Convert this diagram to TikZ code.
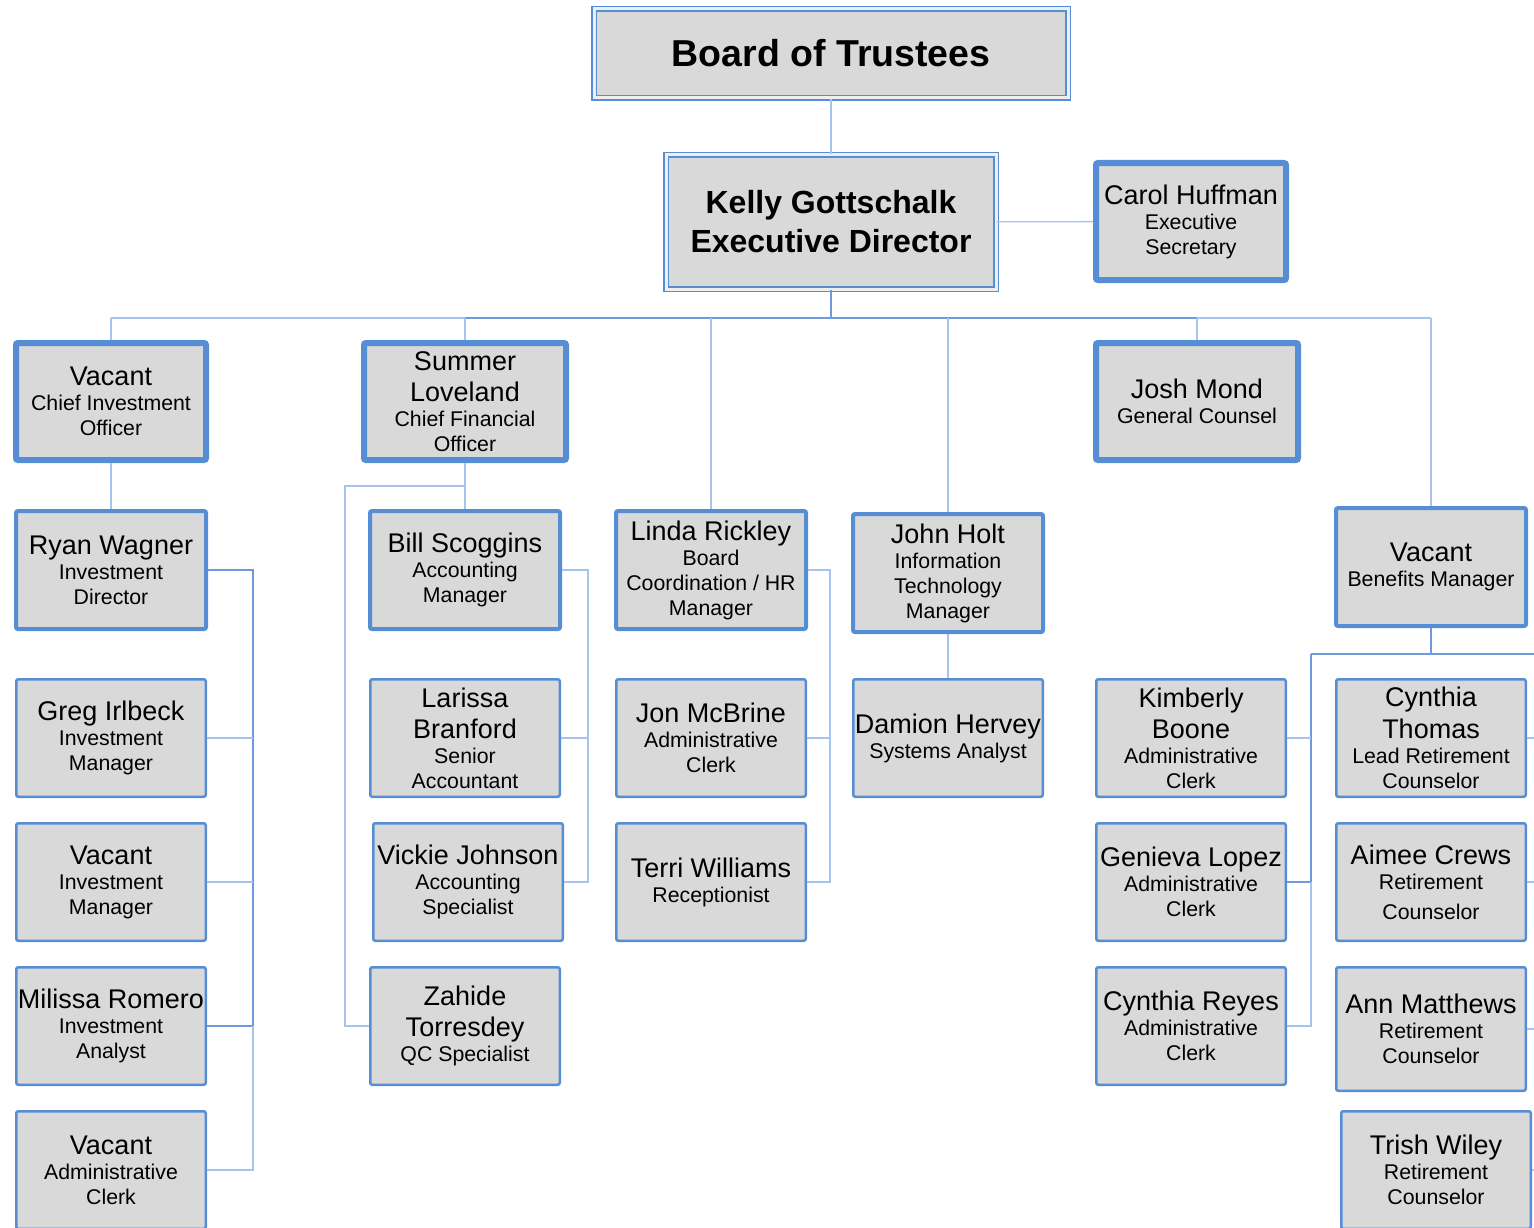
\documentclass[tikz,border=0pt]{standalone}
\usepackage{fontspec}
\setmainfont{Liberation Sans}
\usetikzlibrary{positioning}

\definecolor{boxblue}{RGB}{85,142,213}
\definecolor{boxgray}{RGB}{217,217,217}
\definecolor{linkdark}{RGB}{108,154,220}
\definecolor{linklight}{RGB}{166,196,238}

\newcommand{\nameline}[1]{{\fontsize{27}{31}\selectfont #1}}

\tikzset{
  card/.style={draw=boxblue, fill=boxgray, rounded corners=2pt, align=center, inner sep=0pt,
    font=\fontsize{21.3}{25}\selectfont},
  lowcard/.style={card, line width=2.5pt, minimum width=189.5pt, minimum height=117.5pt},
  midcard/.style={card, line width=4pt, minimum width=190pt, minimum height=118pt},
  topcard/.style={card, line width=6pt, minimum height=117pt},
  headcard/.style={draw=boxblue, line width=1.5pt, double=boxgray!45!white, double distance=3pt,
    fill=boxgray, align=center},
  link/.style={draw=linklight, line width=1.3pt},
  trunk/.style={draw=linkdark, line width=1.6pt},
}

\begin{document}
\begin{tikzpicture}[x=1pt, y=-1pt]
\useasboundingbox (0,0) rectangle (1534,1228);

% Board and director
\node[headcard, minimum width=474pt, minimum height=89pt, font=\bfseries\fontsize{37.5}{44}\selectfont] (bot) at (831,53.5) {Board of Trustees};
\node[headcard, minimum width=330pt, minimum height=134pt, font=\bfseries\fontsize{32}{39}\selectfont] (ed) at (831,222) {Kelly Gottschalk\\Executive Director};
\node[topcard, minimum width=190pt] (sec) at (1191,221.5) {\nameline{Carol Huffman}\\Executive\\Secretary};

% Senior staff
\node[topcard, minimum width=190pt] (cio) at (111,401.5) {\nameline{Vacant}\\Chief Investment\\Officer};
\node[topcard, minimum width=202pt] (cfo) at (465,401.5) {\nameline{Summer}\\[6pt]\nameline{Loveland}\\Chief Financial\\Officer};
\node[topcard, minimum width=202pt] (gc) at (1197,401.5) {\nameline{Josh Mond}\\General Counsel};

% Managers
\node[midcard] (ryan) at (111,570) {\nameline{Ryan Wagner}\\Investment\\Director};
\node[midcard] (bill) at (465,570) {\nameline{Bill Scoggins}\\Accounting\\Manager};
\node[midcard] (linda) at (711,570) {\nameline{Linda Rickley}\\Board\\Coordination / HR\\Manager};
\node[midcard] (holt) at (948,573) {\nameline{John Holt}\\Information\\Technology\\Manager};
\node[midcard] (ben) at (1431,567) {\nameline{Vacant}\\Benefits Manager};

% Investment staff
\node[lowcard] (greg) at (111,738) {\nameline{Greg Irlbeck}\\Investment\\Manager};
\node[lowcard] (vacim) at (111,882) {\nameline{Vacant}\\Investment\\Manager};
\node[lowcard] (milissa) at (111,1026) {\nameline{Milissa Romero}\\Investment\\Analyst};
\node[lowcard] (vacadm) at (111,1170) {\nameline{Vacant}\\Administrative\\Clerk};

% Finance staff
\node[lowcard] (larissa) at (465,738) {\nameline{Larissa}\\[6pt]\nameline{Branford}\\Senior\\Accountant};
\node[lowcard] (vickie) at (468,882) {\nameline{Vickie Johnson}\\Accounting\\Specialist};
\node[lowcard] (zahide) at (465,1026) {\nameline{Zahide}\\[6pt]\nameline{Torresdey}\\QC Specialist};

% Board coordination staff
\node[lowcard] (jon) at (711,738) {\nameline{Jon McBrine}\\Administrative\\Clerk};
\node[lowcard] (terri) at (711,882) {\nameline{Terri Williams}\\Receptionist};

% IT staff
\node[lowcard] (damion) at (948,738) {\nameline{Damion Hervey}\\Systems Analyst};

% Benefits staff
\node[lowcard] (kim) at (1191,738) {\nameline{Kimberly}\\[6pt]\nameline{Boone}\\Administrative\\Clerk};
\node[lowcard] (genieva) at (1191,882) {\nameline{Genieva Lopez}\\Administrative\\Clerk};
\node[lowcard] (reyes) at (1191,1026) {\nameline{Cynthia Reyes}\\Administrative\\Clerk};
\node[lowcard] (cthomas) at (1431,738) {\nameline{Cynthia}\\[6pt]\nameline{Thomas}\\Lead Retirement\\Counselor};
\node[lowcard] (aimee) at (1431,882) {\nameline{Aimee Crews}\\Retirement\\[5pt]Counselor};
\node[lowcard, minimum height=123.5pt] (ann) at (1431,1029) {\nameline{Ann Matthews}\\Retirement\\Counselor};
\node[lowcard] (trish) at (1436,1170) {\nameline{Trish Wiley}\\Retirement\\Counselor};

% Top links
\draw[link] (bot) -- (ed);
\draw[link] (ed) -- (sec);
\coordinate (busl) at (111,318);
\coordinate (busr) at (1431,318);
\draw[trunk] (ed.south) -- (ed.south |- busl);
\draw[link] (busl) -- (busr);
\draw[trunk] (cfo.north |- busl) -- (gc.north |- busl);
\foreach \n in {cio,cfo,linda,holt,gc,ben}
  \draw[link] (\n.north) -- (\n.north |- busl);

% Investment links
\draw[link] (cio) -- (ryan);
\coordinate (ryanx) at (253,570);
\draw[trunk] (ryan.east) -- (ryanx) |- (milissa.east);
\draw[link] (milissa.east -| ryanx) |- (vacadm.east);
\foreach \n in {greg,vacim}
  \draw[link] (\n.east) -- (\n.east -| ryanx);

% Finance links
\coordinate (cfoj) at (465,486);
\coordinate (cfox) at (345,486);
\draw[link] (cfo) -- (bill);
\draw[link] (cfoj) -- (cfox) |- (zahide.west);
\coordinate (billx) at (588,570);
\draw[link] (bill.east) -- (billx) |- (vickie.east);
\draw[link] (larissa.east) -- (larissa.east -| billx);

% Board coordination links
\coordinate (lindax) at (830,570);
\draw[link] (linda.east) -- (lindax) |- (terri.east);
\draw[link] (jon.east) -- (jon.east -| lindax);

% IT links
\draw[link] (holt) -- (damion);

% Benefits links
\coordinate (benj) at (1431,654);
\coordinate (benl) at (1311,654);
\coordinate (benr) at (1541,654);
\draw[trunk] (ben.south) -- (benj);
\draw[trunk] (benl) -- (benr);
\draw[trunk] (benl) |- (genieva.east);
\draw[link] (genieva.east -| benl) |- (reyes.east);
\draw[link] (kim.east) -- (kim.east -| benl);
\draw[link] (benr) |- (trish.east);
\foreach \n in {cthomas,aimee,ann}
  \draw[link] (\n.east) -- (\n.east -| benr);
\end{tikzpicture}
\end{document}
